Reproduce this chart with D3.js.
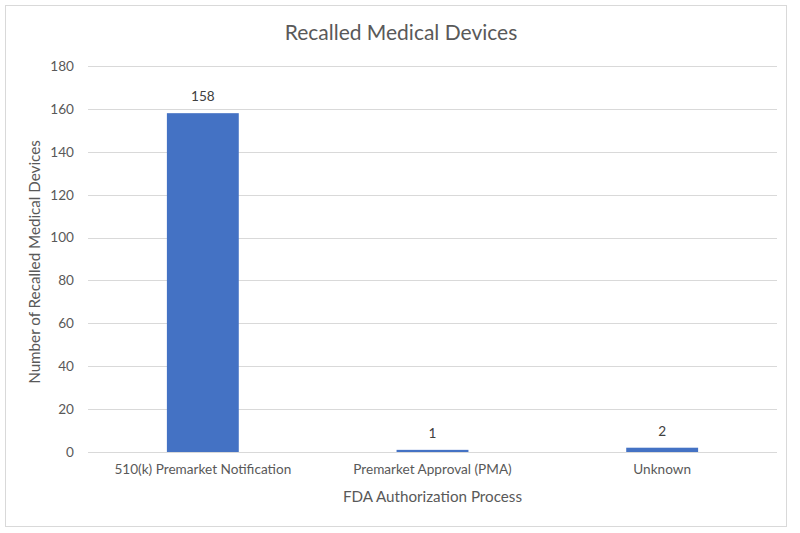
<!DOCTYPE html>
<html><head><meta charset="utf-8">
<script src="https://cdn.jsdelivr.net/npm/d3@7"></script>
<style>body{margin:0;background:#fff;} svg{display:block;} text{font-family:Lato, "Open Sans", sans-serif;}</style>
</head><body>
<script>
const categories = ["510(k) Premarket Notification", "Premarket Approval (PMA)", "Unknown"];
const values = [158, 1, 2];
const yTicks = [0, 20, 40, 60, 80, 100, 120, 140, 160, 180];
const title = "Recalled Medical Devices";
const xTitle = "FDA Authorization Process";
const yTitle = "Number of Recalled Medical Devices";

(function () {
const W = 800, H = 533;
const svg = d3.select("body").append("svg").attr("width", W).attr("height", H);
svg.append("rect").attr("x", 5.5).attr("y", 5.5).attr("width", 781).attr("height", 521)
  .attr("fill", "#fff").attr("stroke", "#d9d9d9").attr("stroke-width", 1);

const mLeft = 88, mRight = 777, mTop = 66, mBottom = 452;
const x = d3.scaleBand().domain(categories).range([mLeft, mRight]).paddingInner(0.687).paddingOuter(0.3435);
const y = d3.scaleLinear().domain([0, 180]).range([mBottom, mTop]);

const txt = "#595959";
const tickFs = "13.6px";
svg.append("g").selectAll("line").data(yTicks).join("line")
  .attr("x1", mLeft).attr("x2", mRight)
  .attr("y1", d => Math.round(y(d)) + 0.5).attr("y2", d => Math.round(y(d)) + 0.5)
  .attr("stroke", "#d9d9d9").attr("stroke-width", 1);

const yAxis = svg.append("g").attr("transform", `translate(${mLeft},0)`)
  .call(d3.axisLeft(y).tickValues(yTicks).tickSize(0).tickPadding(14));
yAxis.select(".domain").remove();
yAxis.selectAll("text").attr("fill", txt).style("font-size", tickFs).style("font-family", "Lato, sans-serif");

svg.append("g").selectAll("rect").data(values).join("rect")
  .attr("x", (d, i) => x(categories[i]))
  .attr("width", x.bandwidth())
  .attr("y", d => y(d))
  .attr("height", d => y(0) - y(d))
  .attr("fill", "#4472c4");

svg.append("g").selectAll("text").data(values).join("text")
  .attr("x", (d, i) => x(categories[i]) + x.bandwidth() / 2)
  .attr("y", d => y(d) - 12)
  .attr("text-anchor", "middle").attr("fill", "#404040")
  .style("font-size", tickFs).text(d => d);

const xAxis = svg.append("g").attr("transform", `translate(0,${mBottom})`)
  .call(d3.axisBottom(x).tickSize(0).tickPadding(12));
xAxis.select(".domain").remove();
xAxis.selectAll("text").attr("fill", txt).style("font-size", tickFs).style("font-family", "Lato, sans-serif");

svg.append("text").attr("x", 401).attr("y", 40).attr("text-anchor", "middle")
  .attr("fill", txt).style("font-size", "21px").text(title);
svg.append("text").attr("x", (mLeft + mRight) / 2).attr("y", 502).attr("text-anchor", "middle")
  .attr("fill", txt).style("font-size", "15.2px").text(xTitle);
svg.append("text").attr("transform", `translate(40,${(mTop + mBottom) / 2 + 3}) rotate(-90)`)
  .attr("text-anchor", "middle").attr("fill", txt).style("font-size", "15.2px").text(yTitle);
})();
</script>
</body></html>
